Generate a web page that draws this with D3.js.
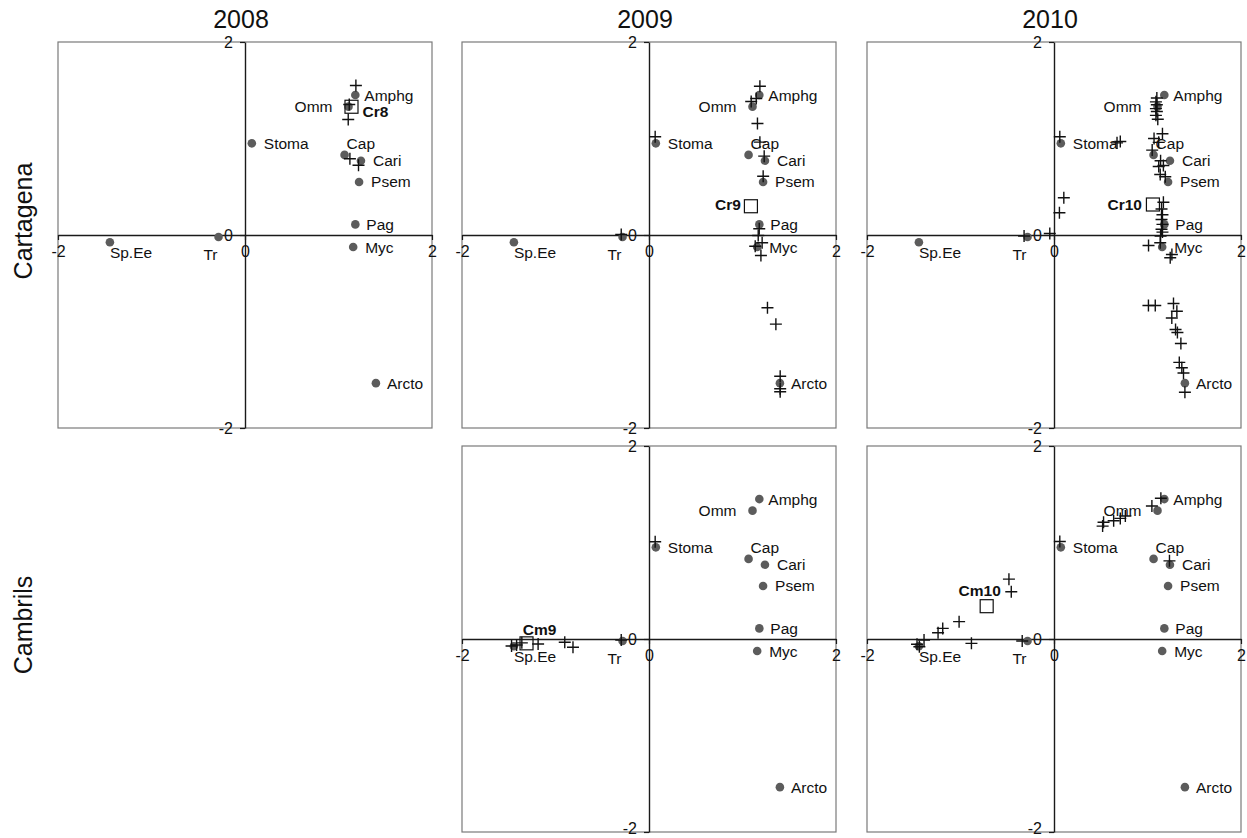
<!DOCTYPE html>
<html>
<head>
<meta charset="utf-8">
<script src="https://cdn.jsdelivr.net/npm/d3@7"></script>
<style>
  html, body { margin: 0; padding: 0; background: #fff; }
  svg { display: block; }
  text { font-family: "Liberation Sans", Arial, Helvetica, sans-serif; }
</style>
</head>
<body>
<svg id="chart" width="1247" height="838"></svg>
<script>
// ---- Data -------------------------------------------------------------
// Prey categories (shared ordination scores for every panel)
const species  = ["Amphg", "Omm", "Stoma", "Cap", "Cari", "Psem", "Pag", "Myc", "Sp.Ee", "Tr", "Arcto"];
const speciesX = [1.18, 1.107, 0.073, 1.065, 1.24, 1.22, 1.18, 1.157, -1.445, -0.283, 1.40];
const speciesY = [1.45, 1.33, 0.95, 0.83, 0.77, 0.55, 0.11, -0.125, -0.075, -0.02, -1.535];

// Individual samples (x, y) for each area/year
const cartagena2008 = [
  [1.186, 1.549], [1.115, 1.352], [1.104, 1.197], [1.122, 0.79], [1.214, 0.723]
];
const cartagena2009 = [
  [1.186, 1.542], [1.147, 1.415], [1.093, 1.383], [1.16, 1.155], [1.186, 0.962],
  [1.232, 0.817], [1.221, 0.609], [0.066, 1.018], [-0.297, 0.005],
  [1.179, 0.064], [1.168, -0.005], [1.136, -0.116], [1.21, -0.08], [1.197, -0.212],
  [1.267, -0.754], [1.357, -0.924], [1.403, -1.463], [1.403, -1.594], [1.403, -1.625]
];
const cartagena2010 = [
  [1.10, 1.42], [1.09, 1.38], [1.10, 1.35], [1.09, 1.31], [1.10, 1.28], [1.09, 1.24], [1.11, 1.20],
  [0.674, 0.955], [0.709, 0.969], [0.062, 1.018],
  [1.16, 1.05], [1.07, 1.00], [1.05, 0.88], [1.12, 0.96],
  [1.14, 0.77], [1.12, 0.71], [1.17, 0.72], [1.136, 0.627], [1.19, 0.603],
  [1.17, 0.34], [1.15, 0.27], [1.16, 0.21], [1.15, 0.16], [1.16, 0.11], [1.15, 0.06], [1.16, 0.03], [1.14, -0.01],
  [1.011, -0.109], [1.136, -0.081], [1.261, -0.202], [1.243, -0.236],
  [1.01, -0.73], [1.083, -0.73], [1.278, -0.71], [1.314, -0.79], [1.26, -0.86], [1.30, -0.98],
  [1.32, -1.01], [1.357, -1.124], [1.34, -1.32], [1.367, -1.376], [1.385, -1.43], [1.40, -1.63],
  [0.105, 0.386], [0.058, 0.23], [-0.045, 0.015], [-0.32, -0.01]
];
const cambrils2009 = [
  [0.066, 1.008], [-0.297, -0.01], [-1.47, -0.073], [-1.416, -0.062], [-1.36, -0.04],
  [-1.186, -0.052], [-0.901, -0.034], [-0.813, -0.086]
];
const cambrils2010 = [
  [1.143, 1.458], [1.047, 1.378], [0.763, 1.275], [0.709, 1.25], [0.638, 1.226], [0.53, 1.21], [0.52, 1.17],
  [0.062, 1.01], [1.235, 0.81], [-0.482, 0.62], [-0.457, 0.49], [-1.015, 0.18], [-1.19, 0.11], [-1.24, 0.065],
  [-1.39, -0.01], [-1.465, -0.055], [-1.44, -0.08], [-0.883, -0.045], [-0.34, -0.02]
];

// Group centroids
const centroidNames = ["Cr8", "Cr9", "Cr10", "Cm9", "Cm10"];
const centroidX     = [1.139, 1.09, 1.058, -1.31, -0.72];
const centroidY     = [1.329, 0.298, 0.316, -0.045, 0.34];

// Panel headings
const years = ["2008", "2009", "2010"];
const areas = ["Cartagena", "Cambrils"];
const axisTicks = [-2, 0, 2];

// ---- Layout ------------------------------------------------------------
const colLeft = [58, 462, 867];
const rowTop  = [42, 446];
const panelW = 374, panelH = 386;

const panels = [
  { col: 0, row: 0, samples: cartagena2008, centroid: 0 },
  { col: 1, row: 0, samples: cartagena2009, centroid: 1 },
  { col: 2, row: 0, samples: cartagena2010, centroid: 2 },
  { col: 1, row: 1, samples: cambrils2009,  centroid: 3 },
  { col: 2, row: 1, samples: cambrils2010,  centroid: 4 }
];

// label placement relative to a mark: [anchor, dx, dy]
const speciesLabelPos = {
  "Amphg": ["start", 9, 0], "Omm": ["end", -16, 0], "Stoma": ["start", 12, 0],
  "Cap": ["start", 2, -11], "Cari": ["start", 12, 0], "Psem": ["start", 12, 0],
  "Pag": ["start", 11, 0], "Myc": ["start", 12, 0], "Sp.Ee": ["start", 0, 10],
  "Tr": ["end", -1, 18], "Arcto": ["start", 11, 0]
};
const centroidLabelPos = {
  "Cr8": ["start", 11, 5], "Cr9": ["end", -10, -2], "Cr10": ["end", -11, 0],
  "Cm9": ["middle", 13, -14], "Cm10": ["middle", -7, -16]
};

const svg = d3.select("#chart");
svg.append("rect").attr("width", 1247).attr("height", 838).attr("fill", "#fff");

// Column titles
years.forEach((yr, i) => {
  svg.append("text")
    .attr("x", colLeft[i] + panelW / 2 - 4)
    .attr("y", 28)
    .attr("text-anchor", "middle")
    .style("font-size", "25px")
    .attr("fill", "#111")
    .text(yr);
});

// Row titles
areas.forEach((a, i) => {
  const cy = rowTop[i] + panelH / 2 - 14;
  svg.append("text")
    .attr("transform", `translate(32,${cy}) rotate(-90)`)
    .attr("text-anchor", "middle")
    .style("font-size", "25px")
    .attr("fill", "#111")
    .text(a);
});

const cross = "M-6,0H6M0,-6V6";
const sq = 13;

panels.forEach(p => {
  const left = colLeft[p.col], top = rowTop[p.row];
  const x = d3.scaleLinear().domain([-2, 2]).range([left, left + panelW]);
  const y = d3.scaleLinear().domain([-2, 2]).range([top + panelH, top]);
  const g = svg.append("g");

  // frame
  g.append("rect")
    .attr("x", x(-2)).attr("y", y(2))
    .attr("width", x(2) - x(-2)).attr("height", y(-2) - y(2))
    .attr("fill", "none").attr("stroke", "#7a7a7a").attr("stroke-width", 1.2);

  // axes through the origin
  const yAxis = d3.axisLeft(y).tickValues(axisTicks).tickFormat(d3.format("d"))
    .tickSize(5).tickSizeOuter(0).tickPadding(7);
  const xAxis = d3.axisBottom(x).tickValues(axisTicks).tickFormat(d3.format("d"))
    .tickSize(5).tickSizeOuter(0).tickPadding(6);

  const ga = g.append("g").attr("transform", `translate(${x(0)},0)`).call(yAxis);
  const gb = g.append("g").attr("transform", `translate(0,${y(0)})`).call(xAxis);
  [ga, gb].forEach(s => {
    s.attr("font-size", null).attr("font-family", null);
    s.select(".domain").attr("stroke", "#1a1a1a").attr("stroke-width", 1.4);
    s.selectAll(".tick line").attr("stroke", "#1a1a1a").attr("stroke-width", 1.2);
    s.selectAll(".tick text")
      .style("font-size", "16px")
      .style("font-family", "'Liberation Sans', Arial, sans-serif")
      .attr("fill", "#111")
      .text(d => d < 0 ? "-" + Math.abs(d) : d);
  });
  // keep the lowest tick label of the bottom row inside the page
  if (p.row === 1) {
    ga.selectAll(".tick text").filter(d => d === -2).attr("dy", "0.12em");
  }

  // prey categories
  const sp = species.map((s, i) => ({ name: s, x: speciesX[i], y: speciesY[i] }));
  g.selectAll(".sp").data(sp).join("circle")
    .attr("cx", d => x(d.x)).attr("cy", d => y(d.y)).attr("r", 4.3)
    .attr("fill", "#5c5c5c");
  g.selectAll(".spl").data(sp).join("text")
    .attr("x", d => x(d.x) + speciesLabelPos[d.name][1])
    .attr("y", d => y(d.y) + speciesLabelPos[d.name][2])
    .attr("text-anchor", d => speciesLabelPos[d.name][0])
    .attr("dominant-baseline", "central")
    .style("font-size", "15.5px").attr("fill", "#111")
    .text(d => d.name);

  // samples
  g.selectAll(".smp").data(p.samples).join("path")
    .attr("d", cross)
    .attr("transform", d => `translate(${x(d[0])},${y(d[1])})`)
    .attr("stroke", "#111").attr("stroke-width", 1.4).attr("fill", "none");

  // centroid
  const c = { name: centroidNames[p.centroid], x: centroidX[p.centroid], y: centroidY[p.centroid] };
  g.append("rect")
    .attr("x", x(c.x) - sq / 2).attr("y", y(c.y) - sq / 2)
    .attr("width", sq).attr("height", sq)
    .attr("fill", "none").attr("stroke", "#111").attr("stroke-width", 1.2);
  const lp = centroidLabelPos[c.name];
  g.append("text")
    .attr("x", x(c.x) + lp[1]).attr("y", y(c.y) + lp[2])
    .attr("text-anchor", lp[0]).attr("dominant-baseline", "central")
    .style("font-size", "15.5px").attr("font-weight", "bold").attr("fill", "#111")
    .text(c.name);
});
</script>
</body>
</html>
